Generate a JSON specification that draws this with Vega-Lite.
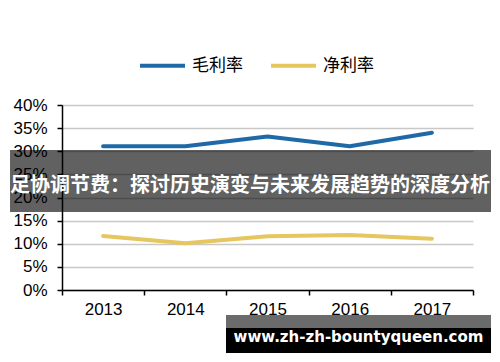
{
  "$schema": "https://vega.github.io/schema/vega-lite/v6.json",
  "autosize": "none",
  "width": 411,
  "height": 185,
  "padding": {"left": 62, "top": 105, "right": 27, "bottom": 72},
  "background": "white",
  "config": {"view": {"stroke": null}},
  "datasets": {
    "main": [
      {"year": "2013", "series": "毛利率", "value": 0.311},
      {"year": "2014", "series": "毛利率", "value": 0.311},
      {"year": "2015", "series": "毛利率", "value": 0.332},
      {"year": "2016", "series": "毛利率", "value": 0.311},
      {"year": "2017", "series": "毛利率", "value": 0.340},
      {"year": "2013", "series": "净利率", "value": 0.117},
      {"year": "2014", "series": "净利率", "value": 0.101},
      {"year": "2015", "series": "净利率", "value": 0.116},
      {"year": "2016", "series": "净利率", "value": 0.119},
      {"year": "2017", "series": "净利率", "value": 0.111}
    ],
    "boxes": [
      {"name": "banner", "bx": -0.1265, "bx2": 1.0438, "by": 0.3027, "by2": 0.1686, "fill": "black", "op": 0.62},
      {"name": "wm_top", "bx": 0.399, "bx2": 1.0438, "by": -0.0541, "by2": -0.0822, "fill": "black", "op": 0.58},
      {"name": "wm_bottom", "bx": 0.399, "bx2": 1.0438, "by": -0.0822, "by2": -0.136, "fill": "black", "op": 1}
    ],
    "labels": [
      {"name": "banner", "tx": 0.4574, "ty": 0.225, "label": "足协调节费：探讨历史演变与未来发展趋势的深度分析"},
      {"name": "wm", "tx": 0.7214, "ty": -0.1016, "label": "www.zh-zh-bountyqueen.com"}
    ]
  },
  "layer": [
    {
      "data": {"name": "main"},
      "mark": {"type": "line", "strokeWidth": 4, "strokeCap": "round", "strokeJoin": "round"},
      "encoding": {
        "x": {
          "field": "year", "type": "ordinal",
          "scale": {"paddingInner": 0, "paddingOuter": 0},
          "axis": {
            "title": null, "labelAngle": 0, "tickBand": "extent",
            "domainColor": "black", "domainWidth": 1.5,
            "tickColor": "black", "tickWidth": 1.5, "tickSize": 5,
            "labelFont": "Liberation Sans", "labelFontSize": 17, "labelColor": "black",
            "labelPadding": 6, "grid": false
          }
        },
        "y": {
          "field": "value", "type": "quantitative",
          "scale": {"domain": [0, 0.4], "nice": false},
          "axis": {
            "title": null, "format": ".0%", "values": [0, 0.05, 0.1, 0.15, 0.2, 0.25, 0.3, 0.35, 0.4],
            "labelOverlap": false, "labelBound": false, "labelFlush": false,
            "domainColor": "black", "domainWidth": 1.5,
            "tickColor": "black", "tickWidth": 1.5, "tickSize": 5,
            "labelFont": "Liberation Sans", "labelFontSize": 17, "labelColor": "black",
            "labelPadding": 10,
            "grid": true, "gridColor": "#c8c8c8", "gridWidth": 1.5
          }
        },
        "color": {
          "field": "series", "type": "nominal",
          "scale": {"domain": ["毛利率", "净利率"], "range": ["#1f6aa6", "#e6c65e"]},
          "legend": {
            "title": null, "orient": "none", "direction": "horizontal",
            "legendX": 76, "legendY": -64,
            "symbolType": "stroke", "symbolSize": 2025, "symbolStrokeWidth": 4,
            "labelFont": "Noto Sans CJK SC", "labelFontSize": 17, "labelColor": "black",
            "labelOffset": 5, "columnPadding": 20
          }
        }
      }
    },
    {
      "data": {"name": "boxes"},
      "mark": {"type": "rect"},
      "encoding": {
        "x": {"field": "bx", "type": "quantitative", "scale": {"domain": [0, 1], "nice": false, "zero": false}, "axis": null},
        "x2": {"field": "bx2"},
        "y": {"field": "by", "type": "quantitative", "scale": {"domain": [0, 0.4], "nice": false}, "axis": null},
        "y2": {"field": "by2"},
        "fill": {"field": "fill", "type": "nominal", "scale": null, "legend": null},
        "opacity": {"field": "op", "type": "quantitative", "scale": null, "legend": null}
      }
    },
    {
      "data": {"name": "labels"},
      "transform": [{"filter": "datum.name == 'banner'"}],
      "mark": {"type": "text", "color": "white", "font": "Noto Sans CJK SC", "fontWeight": "bold", "fontSize": 20, "align": "center", "baseline": "middle"},
      "encoding": {
        "x": {"field": "tx", "type": "quantitative", "scale": {"domain": [0, 1], "nice": false, "zero": false}, "axis": null},
        "y": {"field": "ty", "type": "quantitative", "scale": {"domain": [0, 0.4], "nice": false}, "axis": null},
        "text": {"field": "label"}
      }
    },
    {
      "data": {"name": "labels"},
      "transform": [{"filter": "datum.name == 'wm'"}],
      "mark": {"type": "text", "color": "white", "font": "DejaVu Sans", "fontWeight": "bold", "fontSize": 15, "align": "center", "baseline": "middle"},
      "encoding": {
        "x": {"field": "tx", "type": "quantitative", "scale": {"domain": [0, 1], "nice": false, "zero": false}, "axis": null},
        "y": {"field": "ty", "type": "quantitative", "scale": {"domain": [0, 0.4], "nice": false}, "axis": null},
        "text": {"field": "label"}
      }
    }
  ],
  "resolve": {"scale": {"x": "independent", "y": "independent"}}
}
